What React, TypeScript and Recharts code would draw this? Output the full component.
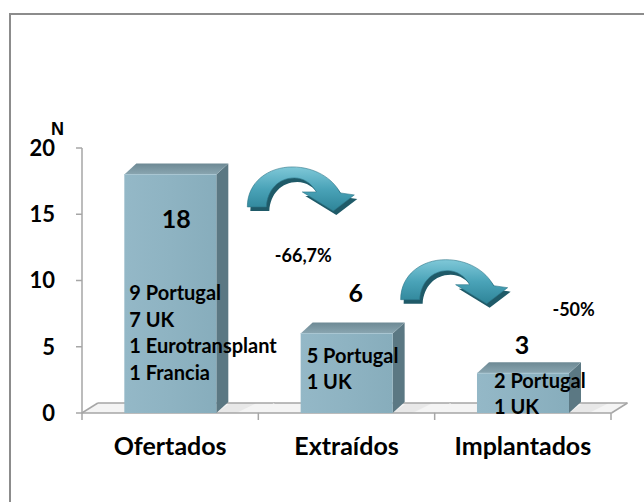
import { BarChart, Bar, XAxis, YAxis } from 'recharts';

const categories = ['Ofertados', 'Extraídos', 'Implantados'];
const totals = [18, 6, 3];
const breakdowns = [
  ['9 Portugal', '7 UK', '1 Eurotransplant', '1 Francia'],
  ['5 Portugal', '1 UK'],
  ['2 Portugal', '1 UK'],
];
const changes = ['-66,7%', '-50%'];
const yTicks = [0, 5, 10, 15, 20];

const data = categories.map((name, i) => ({ name, total: totals[i], lines: breakdowns[i] }));

// where the annotations sit: heights in axis units, dx in px from the bar
const valueAt = [13.95, 8.4, 4.45];
const valueDx = [6, 9, -1];
const listAt = [8.5, 3.8, 1.9];
const listDx = [5, 6, 17];
const arrowAt = [19.1, 12.1];
const arrowDx = [70, 47];
const changeAt = [11.4, 7.3];
const changeDx = [133, 227];

const FONT = 'Lato, "Open Sans", sans-serif';
const AXIS = '#a6a6a6';
const GAP = 0.24;

const ARROW =
  'M 7 47 C 7 22, 28 7, 52 7 C 74 7, 92 18, 100 33 L 114 35 L 93 51 L 62 32 L 76 32 ' +
  'C 71 23, 63 18, 54 18 C 38 18, 27 30, 26 47 Z';

const Arrow = ({ x, y }: { x: number; y: number }) => (
  <g transform={`translate(${x},${y})`}>
    <path d={ARROW} transform="translate(3,4)" fill="#1f5a68" />
    <path d={ARROW} fill="url(#arrowGrad)" stroke="#2b7688" strokeWidth={0.6} />
  </g>
);

// floor of the 3D plot, one slab per category, drawn under the bars
const Floor = (props: any) => {
  const { x, y, width, height, index } = props;
  const half = width / (1 - 2 * GAP) / 2;
  const cx = x + width / 2;
  const left = cx - half;
  const right = cx + half;
  const base = y + height;
  const last = index === data.length - 1;
  return (
    <g>
      <polygon
        points={`${left},${base} ${left + 16},${base - 10} ${right + 16},${base - 10} ${right},${base}`}
        fill="#f4f4f4"
      />
      <polygon
        points={`${x + width},${base} ${x + width + 14},${base - 10} ${x + width + 40},${base - 10} ${x + width + 20},${base}`}
        fill="#e2e2e2"
        opacity={0.7}
      />
      <line x1={left + 16} y1={base - 10} x2={right + 16} y2={base - 10} stroke={AXIS} strokeWidth={1.5} />
      <line x1={left} y1={base} x2={right} y2={base} stroke={AXIS} strokeWidth={1.5} />
      {index === 0 && <line x1={left} y1={base} x2={left + 16} y2={base - 10} stroke={AXIS} strokeWidth={1.5} />}
      {last && <line x1={right} y1={base} x2={right + 16} y2={base - 10} stroke={AXIS} strokeWidth={1.5} />}
    </g>
  );
};

const Bar3D = (props: any) => {
  const { x, y, width, height, index, payload } = props;
  const base = y + height;
  const k = height / payload.total;
  const py = (v: number) => base - v * k;
  const cx = x + width / 2;
  const d = 12;
  const dv = 11;
  const right = x + width;
  return (
    <g>
      <defs>
        <linearGradient id="frontGrad" x1="0" y1="0" x2="1" y2="0">
          <stop offset="0" stopColor="#94b8c7" />
          <stop offset="0.5" stopColor="#8eb3c2" />
          <stop offset="1" stopColor="#87adbc" />
        </linearGradient>
        <linearGradient id="topGrad" x1="0" y1="0" x2="0" y2="1">
          <stop offset="0" stopColor="#6d8994" />
          <stop offset="1" stopColor="#8aa6b1" />
        </linearGradient>
        <linearGradient id="arrowGrad" x1="0" y1="0" x2="0" y2="1">
          <stop offset="0" stopColor="#7fc8d8" />
          <stop offset="0.5" stopColor="#4aa3b8" />
          <stop offset="1" stopColor="#2e8498" />
        </linearGradient>
      </defs>
      <polygon
        points={`${right},${y} ${right + d},${y - dv} ${right + d},${base - dv} ${right},${base}`}
        fill="#5b7883"
      />
      <polygon
        points={`${x},${y} ${x + d},${y - dv} ${right + d},${y - dv} ${right},${y}`}
        fill="url(#topGrad)"
      />
      <rect x={x} y={y} width={width} height={height} fill="url(#frontGrad)" />
      <line x1={x} y1={y} x2={right} y2={y} stroke="#a9c6d2" strokeWidth={1} />
      <text
        x={cx + valueDx[index]}
        y={py(valueAt[index])}
        textAnchor="middle"
        fontFamily={FONT}
        fontWeight="bold"
        fontSize={25}
        fill="#000"
      >
        {payload.total}
      </text>
      {payload.lines.map((line: string, j: number) => (
        <text
          key={line}
          x={x + listDx[index]}
          y={py(listAt[index]) + j * 26.5}
          fontFamily={FONT}
          fontWeight="bold"
          fontSize={20}
          fill="#000"
        >
          {line}
        </text>
      ))}
      {index < changes.length && (
        <g>
          <Arrow x={cx + arrowDx[index]} y={py(arrowAt[index])} />
          <text
            x={cx + changeDx[index]}
            y={py(changeAt[index])}
            textAnchor="middle"
            fontFamily={FONT}
            fontWeight="bold"
            fontSize={18}
            fill="#000"
          >
            {changes[index]}
          </text>
        </g>
      )}
    </g>
  );
};

const CategoryTick = (props: any) => {
  const { x, y, payload, index, visibleTicksCount } = props;
  const half = payload.offset ?? 88;
  const left = x - half;
  const rightEdge = x + half;
  const last = index === visibleTicksCount - 1;
  return (
    <g>
      <line x1={left} y1={y} x2={left} y2={y + 7} stroke={AXIS} strokeWidth={1.5} />
      {last && <line x1={rightEdge} y1={y} x2={rightEdge} y2={y + 7} stroke={AXIS} strokeWidth={1.5} />}
      <text x={x} y={y + 42} textAnchor="middle" fontFamily={FONT} fontWeight="bold" fontSize={25} fill="#000">
        {payload.value}
      </text>
    </g>
  );
};

const App = () => (
  <div style={{ position: 'absolute', left: 0, top: 0, width: 644, height: 502, overflow: 'hidden', background: '#fff' }}>
    <div
      style={{
        position: 'absolute',
        left: 9,
        top: 13,
        width: 700,
        height: 600,
        border: '2px solid #8c8c8c',
      }}
    />
    <div style={{ position: 'absolute', left: 0, top: 0 }}>
      <BarChart width={644} height={502} data={data} margin={{ top: 148, right: 33, bottom: 59, left: 0 }} barCategoryGap="24%">
        <XAxis
          dataKey="name"
          height={30}
          axisLine={false}
          tickLine={false}
          tickSize={0}
          tickMargin={0}
          tick={<CategoryTick />}
          interval={0}
        />
        <YAxis
          width={82}
          domain={[0, 20]}
          ticks={yTicks}
          axisLine={{ stroke: AXIS, strokeWidth: 1.5 }}
          tickLine={{ stroke: AXIS, strokeWidth: 1.5 }}
          tickSize={6}
          tickMargin={21}
          tick={{ fill: '#000', fontFamily: FONT, fontWeight: 'bold', fontSize: 22 }}
          label={{
            content: (p: any) => (
              <text
                x={p.viewBox.x + p.viewBox.width - 31}
                y={p.viewBox.y - 13}
                fontFamily="'Liberation Sans', Arial, sans-serif"
                fontWeight="bold"
                fontSize={18}
                fill="#000"
              >
                N
              </text>
            ),
          }}
        />
        <Bar dataKey="total" shape={<Bar3D />} background={<Floor />} isAnimationActive={false} />
      </BarChart>
    </div>
  </div>
);

export default App;
